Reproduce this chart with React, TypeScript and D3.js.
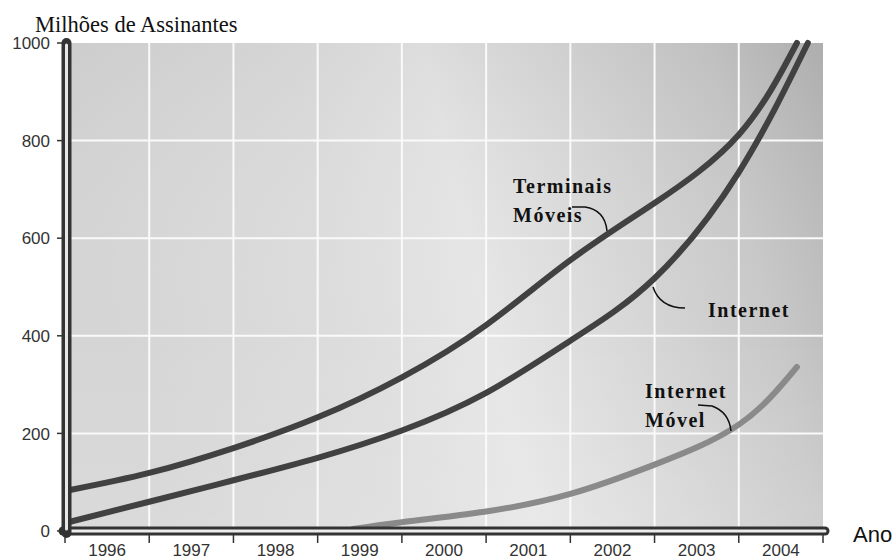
import React from 'react';
import * as d3 from 'd3';

const W = 895;
const H = 560;

const yearLabels = ['1996', '1997', '1998', '1999', '2000', '2001', '2002', '2003', '2004'];
const yTicks = [0, 200, 400, 600, 800, 1000];

const terminaisYears = [1996.06, 1997, 1998, 1999, 2000, 2001, 2002, 2003, 2004, 2004.69];
const terminaisValues = [84, 119, 170, 233, 315, 422, 555, 672, 812, 1000];

const internetYears = [1996.06, 1997, 1998, 1999, 2000, 2001, 2002, 2003, 2004, 2004.82];
const internetValues = [19, 60, 104, 150, 206, 283, 390, 518, 735, 1000];

const movelYears = [1999.42, 2000, 2001, 2002, 2003, 2004, 2004.69];
const movelValues = [4, 18, 40, 76, 136, 218, 336];

const x = d3.scaleLinear().domain([1996, 2005]).range([65, 823]);
const y = d3.scaleLinear().domain([0, 1000]).range([531, 43]);

const line = d3
  .line<[number, number]>()
  .x((d) => x(d[0]))
  .y((d) => y(d[1]))
  .curve(d3.curveNatural);

const zip = (a: number[], b: number[]) => a.map((v, i) => [v, b[i]] as [number, number]);

export default function App() {
  const x0 = x(1996);
  const x1 = x(2005);
  const yTop = y(1000);
  const y0 = y(0);
  const sans = 'Liberation Sans, Arial, Helvetica, sans-serif';
  const serif = '"Liberation Serif", "Times New Roman", "DejaVu Serif", serif';
  const gridX = d3.range(1997, 2005);
  return (
    <svg
      width={W}
      height={H}
      style={{ position: 'absolute', left: 0, top: 0, background: '#fff' }}
    >
      <defs>
        <linearGradient id="bg" x1="0" y1="0.15" x2="1" y2="0">
          <stop offset="0" stopColor="#d5d5d5" />
          <stop offset="0.3" stopColor="#dddddd" />
          <stop offset="0.48" stopColor="#e6e6e6" />
          <stop offset="0.66" stopColor="#d8d8d8" />
          <stop offset="0.85" stopColor="#c8c8c8" />
          <stop offset="1" stopColor="#b5b5b5" />
        </linearGradient>
        <linearGradient id="bgv" x1="0" y1="0" x2="0" y2="1">
          <stop offset="0" stopColor="#000" stopOpacity="0.04" />
          <stop offset="0.6" stopColor="#fff" stopOpacity="0" />
          <stop offset="1" stopColor="#fff" stopOpacity="0.12" />
        </linearGradient>
      </defs>

      {/* plot background */}
      <rect x={x0 + 6} y={yTop} width={x1 - x0 - 6} height={y0 - 4 - yTop} fill="url(#bg)" />
      <rect x={x0 + 6} y={yTop} width={x1 - x0 - 6} height={y0 - 4 - yTop} fill="url(#bgv)" />

      {/* grid */}
      {gridX.map((g) => (
        <line key={'gx' + g} x1={x(g)} x2={x(g)} y1={yTop} y2={y0 - 4} stroke="#fafafa" strokeWidth={2} />
      ))}
      {yTicks.filter((t) => t > 0 && t < 1000).map((t) => (
        <line key={'gy' + t} x1={x0 + 6} x2={x1} y1={y(t)} y2={y(t)} stroke="#fafafa" strokeWidth={2} />
      ))}

      {/* series */}
      <path d={line(zip(movelYears, movelValues)) || ''} fill="none" stroke="#8a8a8a" strokeWidth={6} strokeLinecap="round" />
      <path d={line(zip(internetYears, internetValues)) || ''} fill="none" stroke="#414141" strokeWidth={6} strokeLinecap="round" />
      <path d={line(zip(terminaisYears, terminaisValues)) || ''} fill="none" stroke="#414141" strokeWidth={6} strokeLinecap="round" />

      {/* x axis tube */}
      <line x1={x0 - 2} x2={x1 + 2} y1={y0} y2={y0} stroke="#333" strokeWidth={9} strokeLinecap="round" />
      <line x1={x0 + 2} x2={x1 + 2} y1={y0} y2={y0} stroke="#ececec" strokeWidth={3} strokeLinecap="round" />
      {/* y axis tube */}
      <line x1={x0 + 1.5} x2={x0 + 1.5} y1={y0 + 2} y2={yTop} stroke="#333" strokeWidth={10} strokeLinecap="round" />
      <line x1={x0 + 1.5} x2={x0 + 1.5} y1={y0 - 2} y2={yTop + 2} stroke="#e6e6e6" strokeWidth={3} strokeLinecap="round" />

      {/* y ticks */}
      {yTicks.map((t) => (
        <g key={'yt' + t}>
          <line x1={x0 - 8} x2={x0 - 3} y1={y(t)} y2={y(t)} stroke="#333" strokeWidth={1.5} />
          <text x={x0 - 15} y={y(t)} dy="0.36em" textAnchor="end" fontFamily={sans} fontSize={17} fill="#333">
            {t}
          </text>
        </g>
      ))}

      {/* x ticks */}
      {d3.range(1996, 2006).map((t) => (
        <line key={'xt' + t} x1={x(t)} x2={x(t)} y1={y0 + 4} y2={y0 + 12} stroke="#333" strokeWidth={1.5} />
      ))}
      {yearLabels.map((lab, i) => (
        <text key={lab} x={x(1996 + i + 0.5)} y={y0 + 25} textAnchor="middle" fontFamily={sans} fontSize={17} fill="#333">
          {lab}
        </text>
      ))}

      {/* axis titles */}
      <text x={35} y={32} style={{ fontFamily: serif }} fontSize={22.5} fill="#111">
        Milhões de Assinantes
      </text>
      <text x={853} y={542} fontFamily={sans} fontSize={22} fill="#111">
        Ano
      </text>

      {/* annotations */}
      <g style={{ fontFamily: serif }} fontWeight="bold" fontSize={20} letterSpacing={1.5} fill="#111">
        <text x={513} y={193}>Terminais</text>
        <text x={513} y={222}>Móveis</text>
        <text x={708} y={317}>Internet</text>
        <text x={645} y={398}>Internet</text>
        <text x={645} y={427}>Móvel</text>
      </g>
      <g fill="none" stroke="#111" strokeWidth={1.5}>
        <path d="M 572 207 L 585 207 Q 605 210 607 231" />
        <path d="M 653 287 Q 660 308 685 308" />
        <path d="M 698 405 L 712 406 Q 729 412 731 431" />
      </g>
    </svg>
  );
}
